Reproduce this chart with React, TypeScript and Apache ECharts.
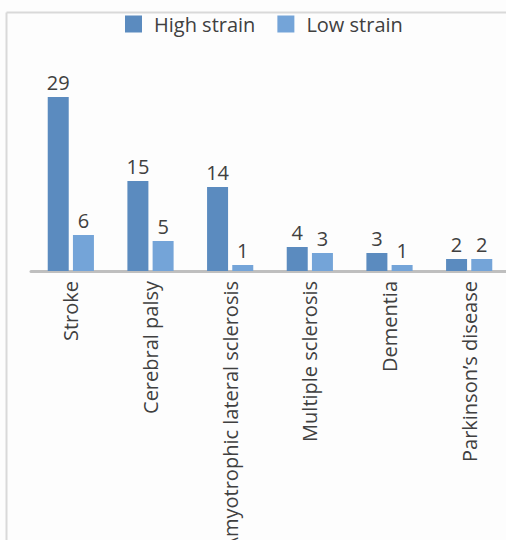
import React, { useEffect, useRef } from "react";
import * as echarts from "echarts";

const categories = [
  "Stroke",
  "Cerebral palsy",
  "Amyotrophic lateral sclerosis",
  "Multiple sclerosis",
  "Dementia",
  "Parkinson\u2019s disease",
];
const highStrain = [29, 15, 14, 4, 3, 2];
const lowStrain = [6, 5, 1, 3, 1, 2];
const seriesNames = ["High strain", "Low strain"];

export default function App() {
  const ref = useRef<HTMLDivElement>(null);
  useEffect(() => {
    if (!ref.current) return;
    const chart = echarts.init(ref.current, undefined, { renderer: "svg" });
    const font = "Open Sans";
    chart.setOption({
      animation: false,
      backgroundColor: "#fdfdfd",
      textStyle: { fontFamily: font },
      graphic: [
        { type: "line", shape: { x1: 6.5, y1: 12.5, x2: 506, y2: 12.5 }, style: { stroke: "#d9d9d9", lineWidth: 2 } },
        { type: "line", shape: { x1: 6.5, y1: 12.5, x2: 6.5, y2: 540 }, style: { stroke: "#d9d9d9", lineWidth: 2 } },
      ],
      legend: {
        top: 9,
        left: 120,
        itemWidth: 17,
        itemHeight: 17,
        itemGap: 22,
        icon: "rect",
        textStyle: { fontFamily: font, fontSize: 20, color: "#404040", padding: [0, 0, 0, 7] },
        data: seriesNames,
      },
      grid: {
        left: 31,
        top: 61,
        width: 478,
        height: 210,
        containLabel: false,
        outerBoundsMode: "none",
      },
      xAxis: {
        type: "category",
        data: categories,
        axisLine: { lineStyle: { color: "#bfbfbf", width: 3 } },
        axisTick: { show: false },
        axisLabel: {
          rotate: 90,
          interval: 0,
          margin: 10,
          fontFamily: font,
          fontSize: 20,
          color: "#404040",
        },
      },
      yAxis: {
        type: "value",
        min: 0,
        max: 35,
        show: false,
        splitLine: { show: false },
      },
      series: [
        {
          name: seriesNames[0],
          type: "bar",
          data: highStrain,
          barWidth: 21,
          barGap: "20%",
          itemStyle: { color: "#5b8bbf" },
          label: { show: true, position: "top", distance: 5, fontFamily: font, fontSize: 20, color: "#404040" },
        },
        {
          name: seriesNames[1],
          type: "bar",
          data: lowStrain,
          barWidth: 21,
          barGap: "20%",
          itemStyle: { color: "#74a4d8" },
          label: { show: true, position: "top", distance: 5, fontFamily: font, fontSize: 20, color: "#404040" },
        },
      ],
    });
    return () => chart.dispose();
  }, []);
  return (
    <div
      ref={ref}
      style={{ position: "absolute", left: 0, top: 0, width: 506, height: 540 }}
    />
  );
}
